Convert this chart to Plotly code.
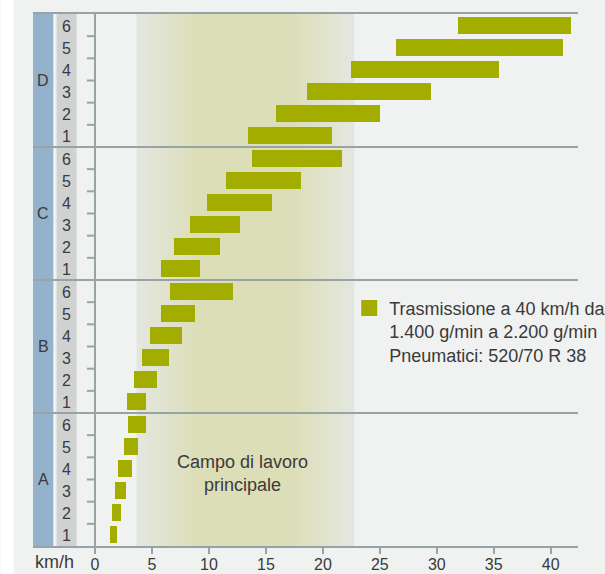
import plotly.graph_objects as go

# ---- data ----
groups = ["A", "B", "C", "D"]
gear_numbers = ["1", "2", "3", "4", "5", "6"]
gear_labels = [f"{g}{n}" for g in groups for n in gear_numbers]
speed_min = [1.27, 1.45, 1.71, 1.97, 2.50, 2.85,
             2.76, 3.46, 4.08, 4.80, 5.75, 6.60,
             5.80, 6.90, 8.30, 9.80, 11.50, 13.80,
             13.40, 15.90, 18.60, 22.50, 26.40, 31.90]
speed_max = [1.95, 2.30, 2.74, 3.26, 3.79, 4.49,
             4.49, 5.45, 6.50, 7.65, 8.80, 12.10,
             9.20, 11.00, 12.70, 15.50, 18.10, 21.70,
             20.80, 25.00, 29.50, 35.50, 41.10, 41.80]
work_range = [3.64, 22.76]
x_ticks = [0, 5, 10, 15, 20, 25, 30, 35, 40]
legend_text = "Trasmissione a 40 km/h da<br>1.400 g/min a 2.200 g/min<br>Pneumatici: 520/70 R 38"
work_label = "Campo di lavoro<br>principale"

# ---- style ----
BG = "#f0f2f1"
BAR = "#a2ad00"
LINE = "#98a3a6"
BLUE = "#94b2cc"
GREY = "#d0d2d2"
TXT = "#3a3a3a"
FONT = "Liberation Sans, Arial, sans-serif"
XMIN, XMAX = -5.45, 42.4
n = len(gear_labels)

fig = go.Figure()

# working-range gradient band (main subplot, under the bars)
fig.add_trace(go.Scatter(
    x=[work_range[0], work_range[1], work_range[1], work_range[0], work_range[0]],
    y=[-0.5, -0.5, n - 0.5, n - 0.5, -0.5],
    mode="lines", line=dict(width=0), fill="toself",
    fillgradient=dict(type="horizontal",
                      colorscale=[[0, "#e4e7df"], [0.28, "#dcdeb8"],
                                  [0.72, "#dcdeb8"], [1, "#e4e7df"]]),
    hoverinfo="skip", showlegend=False))

# bars on an overlaying y axis so they sit above the gradient
fig.add_trace(go.Bar(
    y=list(range(n)), base=speed_min,
    x=[b - a for a, b in zip(speed_min, speed_max)],
    orientation="h", width=0.76, marker=dict(color=BAR, line=dict(width=0)),
    name=legend_text, showlegend=False, yaxis="y2"))

# legend entry (larger square symbol, like the reference)
fig.add_trace(go.Scatter(
    x=[None], y=[None], mode="markers", yaxis="y2",
    marker=dict(symbol="square", size=16, color=BAR),
    name=legend_text, showlegend=True))

shapes = []
shapes.append(dict(type="rect", xref="x", yref="y", x0=XMIN, x1=-3.67, y0=-0.5, y1=n - 0.5,
                   fillcolor=BLUE, line=dict(width=0), layer="below"))
shapes.append(dict(type="rect", xref="x", yref="y", x0=-3.38, x1=-1.62, y0=-0.5, y1=n - 0.5,
                   fillcolor=GREY, line=dict(width=0), layer="below"))
shapes.append(dict(type="rect", xref="paper", yref="paper", x0=-32.5 / 545.5, x1=-19.5 / 545.5,
                   y0=-0.2, y1=1.2, fillcolor="white", line=dict(width=0), layer="below"))
for k in range(1, n):
    yb = k - 0.5
    if k % 6 == 0:
        shapes.append(dict(type="line", xref="x", yref="y", x0=XMIN, x1=XMAX, y0=yb, y1=yb,
                           line=dict(color=LINE, width=2), layer="above"))
    else:
        shapes.append(dict(type="line", xref="x", yref="y", x0=-0.72, x1=0, y0=yb, y1=yb,
                           line=dict(color=LINE, width=2), layer="above"))

annotations = []
for i, lab in enumerate(gear_labels):
    annotations.append(dict(x=-2.5, y=i, xref="x", yref="y", text=lab[1:], showarrow=False,
                            font=dict(size=16, color=TXT, family=FONT), yshift=-1))
for gi, g in enumerate(groups):
    annotations.append(dict(x=-4.54, y=gi * 6 + 2.5, xref="x", yref="y", text=g, showarrow=False,
                            font=dict(size=16, color=TXT, family=FONT)))
annotations.append(dict(x=12.94, y=2.79, xref="x", yref="y", text=work_label, showarrow=False,
                        align="center", font=dict(size=18, color=TXT, family=FONT)))
annotations.append(dict(x=0.5 / 545.5, y=(546.5 - 563) / 532.5, xref="paper", yref="paper",
                        text="km/h", showarrow=False, xanchor="left", yanchor="middle",
                        font=dict(size=18, color=TXT, family=FONT)))

fig.update_layout(
    width=605, height=574,
    margin=dict(l=32.5, r=27, t=14, b=27.5, autoexpand=False),
    paper_bgcolor=BG, plot_bgcolor=BG,
    barmode="overlay", bargap=0,
    shapes=shapes, annotations=annotations,
    font=dict(family=FONT, color=TXT),
    xaxis=dict(range=[XMIN, XMAX], tickvals=x_ticks, ticks="outside", ticklen=6, tickwidth=2,
               tickcolor=LINE, showgrid=False, zeroline=True, zerolinecolor=LINE, zerolinewidth=2,
               showline=True, linecolor=LINE, linewidth=2, mirror=True, ticklabelstandoff=-3,
               tickfont=dict(size=16, color=TXT, family=FONT)),
    yaxis=dict(range=[-0.5, n - 0.5], visible=False, fixedrange=True),
    yaxis2=dict(range=[-0.5, n - 0.5], visible=False, overlaying="y", fixedrange=True),
    legend=dict(x=(349 - 32.5) / 545.5, y=(546.5 - 290) / 532.5, xanchor="left", yanchor="top",
                bgcolor="rgba(0,0,0,0)", valign="top",
                font=dict(size=18, color=TXT, family=FONT)),
)

fig.write_html("out.html", config={"displayModeBar": False},
               post_script="document.body.style.margin='0px';")
